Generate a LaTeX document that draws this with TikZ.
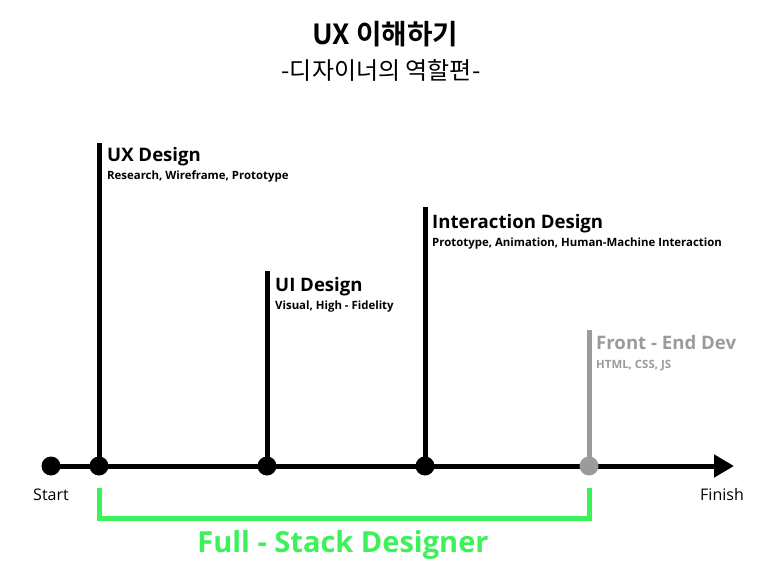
\documentclass[tikz,border=0pt]{standalone}
\usepackage{fontspec}
\setmainfont{Open Sans}
\newfontfamily\kr{Noto Sans CJK KR}[BoldFont={Noto Sans CJK KR Bold}]
\usetikzlibrary{arrows.meta}
\definecolor{fsgreen}{HTML}{3CF15A}
\definecolor{dimgray}{HTML}{9B9B9B}
\tikzset{
  lbl/.style={anchor=base west, inner sep=0pt, font=\fontsize{18.6}{19}\selectfont\bfseries},
  sublbl/.style={anchor=base west, inner sep=0pt, font=\fontsize{11.4}{12}\selectfont\bfseries},
  dotnode/.style={circle, fill=black, minimum size=19pt, inner sep=0pt},
  stem/.style={line width=5pt},
  axisline/.style={line width=5pt, -{Triangle[length=20pt,width=22pt]}},
  endlbl/.style={anchor=base, inner sep=0pt, font=\fontsize{16}{16}\selectfont},
}
\begin{document}
\begin{tikzpicture}[x=1pt,y=-1pt]
\useasboundingbox (0,0) rectangle (773,580);
% title
\node[anchor=base, inner sep=0pt, font=\kr\fontsize{27.7}{28}\selectfont\bfseries] (title) at (385,45) {UX 이해하기};
\node[anchor=base, inner sep=0pt, font=\kr\fontsize{24}{24}\selectfont] (subtitle) at (381,80) {-디자이너의 역할편-};
% points
\coordinate (ps) at (51,466);
\coordinate (p1) at (99,466);
\coordinate (p2) at (267,466);
\coordinate (p3) at (425,466);
\coordinate (p4) at (589,466);
\coordinate (pf) at (734,466);
\coordinate (t1) at (99,143);
\coordinate (t2) at (267,271);
\coordinate (t3) at (425,207);
\coordinate (t4) at (589,330);
% axis and stems
\draw[axisline] (ps) -- (pf);
\draw[stem] (p1) -- (t1);
\draw[stem] (p2) -- (t2);
\draw[stem] (p3) -- (t3);
\draw[stem, dimgray] (p4) -- (t4);
% dots
\node[dotnode] (ds) at (ps) {};
\node[dotnode] (d1) at (p1) {};
\node[dotnode] (d2) at (p2) {};
\node[dotnode] (d3) at (p3) {};
\node[dotnode, fill=dimgray] (d4) at (p4) {};
% labels
\node[lbl] (l1) at (107,162) {UX Design};
\node[sublbl] (s1) at (107,180) {Research, Wireframe, Prototype};
\node[lbl] (l2) at (275,291) {UI Design};
\node[sublbl] (s2) at (275,309) {Visual, High - Fidelity};
\node[lbl] (l3) at (432,228) {Interaction Design};
\node[sublbl] (s3) at (432,246) {Prototype, Animation, Human-Machine Interaction};
\node[lbl, text=dimgray] (l4) at (596,349) {Front - End Dev};
\node[sublbl, text=dimgray] (s4) at (596,368) {HTML, CSS, JS};
\node[endlbl] (start) at (51,500) {Start};
\node[endlbl] (finish) at (722,500) {Finish};
% bracket
\coordinate (gl) at (99,488);
\coordinate (gr) at (589,488);
\draw[fsgreen, line width=5pt] (gl) -- ++(0,30) -| (gr);
\node[anchor=base, inner sep=0pt, text=fsgreen, font=\fontsize{29}{29}\selectfont\bfseries] (fs) at (343,552) {Full - Stack Designer};
\end{tikzpicture}
\end{document}
